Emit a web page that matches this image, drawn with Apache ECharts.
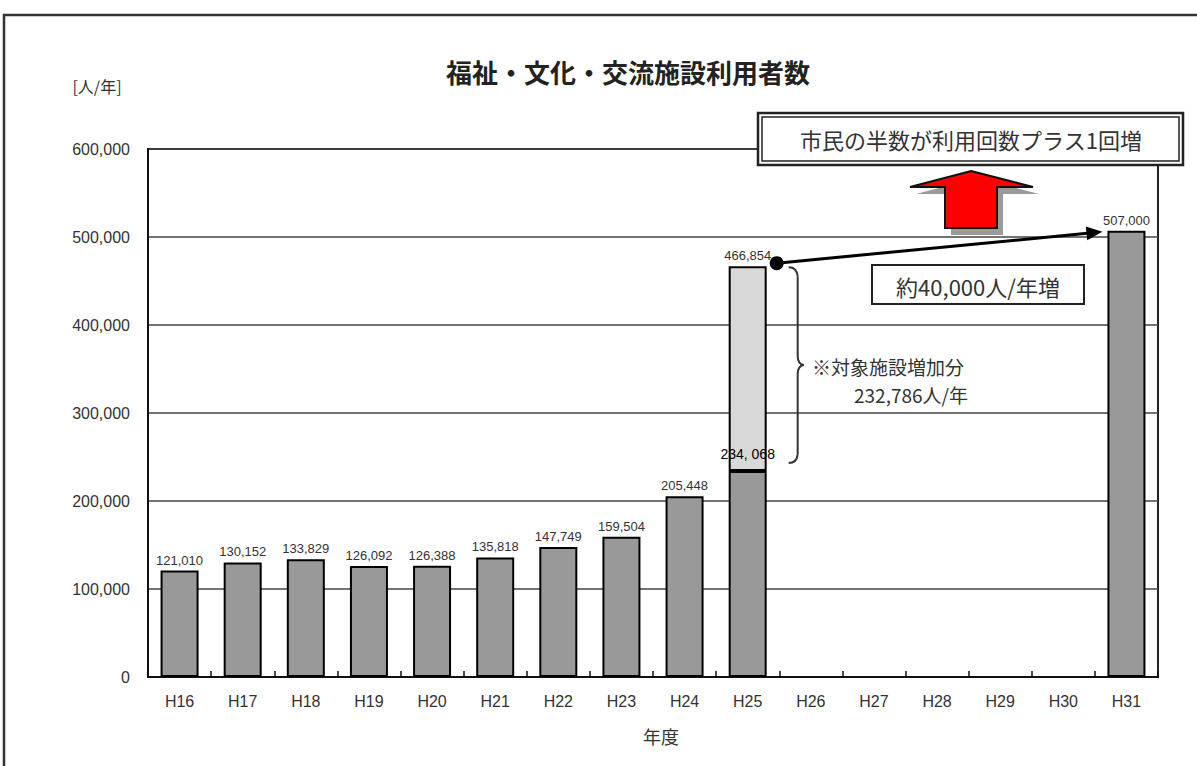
<!DOCTYPE html>
<html><head><meta charset="utf-8">
<script src="https://cdn.jsdelivr.net/npm/echarts@6/dist/echarts.min.js"></script>
<style>html,body{margin:0;padding:0;background:#fff}#c{width:1197px;height:766px}</style>
</head><body><div id="c"></div>
<script>
// ---- data ----
const categories = ['H16','H17','H18','H19','H20','H21','H22','H23','H24','H25','H26','H27','H28','H29','H30','H31'];
const users = [121010,130152,133829,126092,126388,135818,147749,159504,205448,234068,null,null,null,null,null,507000];
const addedFacilities = [null,null,null,null,null,null,null,null,null,232786,null,null,null,null,null,null];
const yMin = 0, yMax = 600000, yStep = 100000;
const titleText = '福祉・文化・交流施設利用者数';
const unitText = '[人/年]';
const xName = '年度';
const targetText = '市民の半数が利用回数プラス1回増';
const growthText = '約40,000人/年増';
const addedNote1 = '※対象施設増加分';
const addedNote2 = '232,786人/年';

const JP = '"Noto Sans CJK JP","Noto Sans CJK SC",sans-serif';
const LS = '"Liberation Sans",Arial,sans-serif';
const fmt = v => v.toLocaleString('en-US');
const h25 = categories.indexOf('H25');
const h31 = categories.indexOf('H31');

const baseData = users.map((v, i) => {
  if (i === h25) {
    return { value: v, label: { show: true, position: 'top', distance: 10, fontFamily: LS, fontSize: 14, color: '#000',
      formatter: () => fmt(v).replace(',', ', ') } };
  }
  return v;
});

const chart = echarts.init(document.getElementById('c'), null, { renderer: 'svg' });
const option = {
  animation: false,
  backgroundColor: '#fff',
  grid: { left: 148, right: 39, top: 149, bottom: 89, show: true, borderColor: '#222', borderWidth: 2, backgroundColor: 'transparent' },
  xAxis: {
    type: 'category', data: categories,
    axisLine: { lineStyle: { color: '#111', width: 2 } },
    axisTick: { show: true, inside: true, length: 6, lineStyle: { color: '#111', width: 1.5 } },
    axisLabel: { color: '#333', fontSize: 16, fontFamily: LS, margin: 16 },
    name: xName, nameLocation: 'middle', nameGap: 50,
    nameTextStyle: { color: '#333', fontSize: 18, fontFamily: JP, padding: [0, 0, 0, 16] }
  },
  yAxis: {
    type: 'value', min: yMin, max: yMax, interval: yStep,
    axisLine: { show: true, lineStyle: { color: '#111', width: 2 } },
    axisTick: { show: false },
    axisLabel: { color: '#333', fontSize: 16, fontFamily: LS, margin: 18, formatter: v => fmt(v) },
    splitLine: { lineStyle: { color: '#444', width: 1.5 } }
  },
  series: [
    {
      type: 'bar', stack: 'a', data: baseData, barWidth: 38,
      itemStyle: { color: '#999999', borderColor: '#000', borderWidth: 2 },
      label: { show: true, position: 'top', distance: 4, color: '#333', fontSize: 13, fontFamily: LS,
        formatter: p => (p.value == null ? '' : fmt(p.value)) }
    },
    {
      type: 'bar', stack: 'a', data: addedFacilities, barWidth: 38,
      itemStyle: { color: '#d9d9d9', borderColor: '#000', borderWidth: 2 },
      label: { show: true, position: 'top', distance: 4, color: '#333', fontSize: 13, fontFamily: LS,
        formatter: p => (p.value == null ? '' : fmt(p.value + users[p.dataIndex])) }
    }
  ]
};
chart.setOption(option);

// ---- annotations positioned from the axes ----
const px = (i, v) => chart.convertToPixel({ gridIndex: 0 }, [i, v]);
const topH25 = px(h25, users[h25] + addedFacilities[h25]);
const baseH25 = px(h25, users[h25]);
const topH31 = px(h31, users[h31]);

const dot = [topH25[0] + 29, topH25[1] - 3];
const tip = [topH31[0] - 24, topH31[1] + 1];
const ang = Math.atan2(tip[1] - dot[1], tip[0] - dot[0]);
const ah = (len, w) => {
  const bx = tip[0] - Math.cos(ang) * len, by = tip[1] - Math.sin(ang) * len;
  const nx = -Math.sin(ang) * w, ny = Math.cos(ang) * w;
  return [tip, [bx + nx, by + ny], [bx - nx, by - ny]];
};

const bx = dot[0] + 21;           // brace x
const bTop = topH25[1] + 1;
const bBot = baseH25[1] - 8;
const bMid = (bTop + bBot) / 2;

const arrowPts = (ox, oy) => [[971, 171], [1033, 187], [997, 187], [997, 228], [945, 228], [945, 187], [910, 187]].map(p => [p[0] + ox, p[1] + oy]);

const graphics = [
  { type: 'rect', shape: { x: 4, y: 15, width: 1400, height: 900 }, style: { fill: 'none', stroke: '#333', lineWidth: 2.5 }, z: 1 },
  { type: 'text', x: 628, y: 71, style: { text: titleText, fontSize: 26, fontWeight: 'bold', fontFamily: JP, fill: '#222', align: 'center', verticalAlign: 'middle', letterSpacing: 1.3 } },
  { type: 'text', x: 97, y: 86, style: { text: unitText, fontSize: 16, fontFamily: JP, fill: '#333', align: 'center', verticalAlign: 'middle' } },
  // target box (double border)
  { type: 'rect', shape: { x: 758, y: 113, width: 425, height: 52 }, style: { fill: '#fff', stroke: '#222', lineWidth: 2.5 }, z: 10 },
  { type: 'rect', shape: { x: 762, y: 117, width: 417, height: 44 }, style: { fill: '#fff', stroke: '#222', lineWidth: 1.5 }, z: 10 },
  { type: 'text', x: 971, y: 139, z: 11, style: { text: targetText, fontSize: 22, fontFamily: JP, fill: '#333', align: 'center', verticalAlign: 'middle', letterSpacing: 3 } },
  // red up arrow with shadow
  { type: 'polygon', shape: { points: arrowPts(6, 7) }, style: { fill: '#9a9a9a', stroke: 'none' }, z: 9 },
  { type: 'polygon', shape: { points: arrowPts(0, 0) }, style: { fill: '#ff0000', stroke: '#111', lineWidth: 2 }, z: 10 },
  // growth line
  { type: 'line', shape: { x1: dot[0], y1: dot[1], x2: tip[0] - Math.cos(ang) * 10, y2: tip[1] - Math.sin(ang) * 10 }, style: { stroke: '#000', lineWidth: 3 }, z: 10 },
  { type: 'polygon', shape: { points: ah(16, 7) }, style: { fill: '#000' }, z: 10 },
  { type: 'circle', shape: { cx: dot[0], cy: dot[1], r: 7 }, style: { fill: '#000' }, z: 10 },
  // growth box
  { type: 'rect', shape: { x: 872, y: 265, width: 212, height: 39 }, style: { fill: '#fff', stroke: '#222', lineWidth: 2 }, z: 10 },
  { type: 'text', x: 978, y: 286, z: 11, style: { text: growthText, fontSize: 22, fontFamily: JP, fill: '#333', align: 'center', verticalAlign: 'middle', letterSpacing: 1 } },
  // brace
  { type: 'bezierCurve', shape: { x1: bx - 9, y1: bTop, cpx1: bx - 1, cpy1: bTop, x2: bx, y2: bTop + 9 }, style: { stroke: '#333', lineWidth: 2, fill: 'none' }, z: 10 },
  { type: 'line', shape: { x1: bx, y1: bTop + 9, x2: bx, y2: bMid - 9 }, style: { stroke: '#333', lineWidth: 2 }, z: 10 },
  { type: 'bezierCurve', shape: { x1: bx, y1: bMid - 9, cpx1: bx, cpy1: bMid - 1, x2: bx + 6, y2: bMid }, style: { stroke: '#333', lineWidth: 2, fill: 'none' }, z: 10 },
  { type: 'bezierCurve', shape: { x1: bx + 6, y1: bMid, cpx1: bx, cpy1: bMid + 1, x2: bx, y2: bMid + 9 }, style: { stroke: '#333', lineWidth: 2, fill: 'none' }, z: 10 },
  { type: 'line', shape: { x1: bx, y1: bMid + 9, x2: bx, y2: bBot - 9 }, style: { stroke: '#333', lineWidth: 2 }, z: 10 },
  { type: 'bezierCurve', shape: { x1: bx, y1: bBot - 9, cpx1: bx - 1, cpy1: bBot, x2: bx - 9, y2: bBot }, style: { stroke: '#333', lineWidth: 2, fill: 'none' }, z: 10 },
  { type: 'text', x: 812, y: 366, z: 11, style: { text: addedNote1, fontSize: 19, lineHeight: 20, fontFamily: JP, fill: '#333', align: 'left', verticalAlign: 'middle', letterSpacing: 2 } },
  { type: 'text', x: 854, y: 394, z: 11, style: { text: addedNote2, fontSize: 19, lineHeight: 20, fontFamily: JP, fill: '#333', align: 'left', verticalAlign: 'middle', letterSpacing: 0.5 } }
];
chart.setOption({ graphic: graphics });
</script>
</body></html>
